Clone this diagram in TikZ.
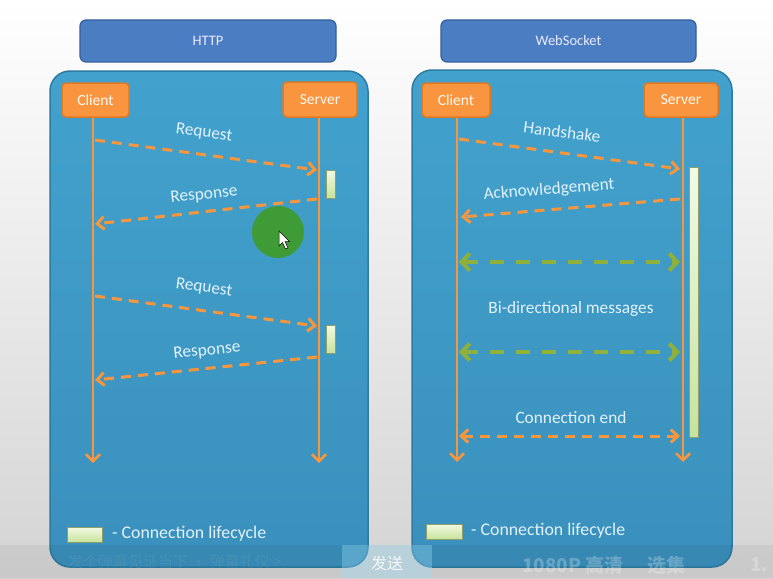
\documentclass[tikz,border=0pt]{standalone}
\usepackage{fontspec}
\setmainfont{Carlito}
\newfontfamily\cjk{Noto Sans CJK SC}
\usetikzlibrary{arrows.meta}
\definecolor{panelfill}{HTML}{42A2CD}
\definecolor{panelbot}{HTML}{3A90BC}
\definecolor{panelline}{HTML}{2C7BA3}
\definecolor{hdrfill}{HTML}{4B7DC2}
\definecolor{hdrline}{HTML}{345F9C}
\definecolor{orng}{HTML}{F7963C}
\definecolor{orngbox}{HTML}{F9953F}
\definecolor{orngline}{HTML}{E07A22}
\definecolor{grn}{HTML}{8FB03A}
\definecolor{lbltxt}{HTML}{E2F2FB}
\definecolor{bartop}{HTML}{F3FAE3}
\definecolor{barbot}{HTML}{C8E39C}
\definecolor{cursorgrn}{HTML}{3F9B35}
\begin{document}
\begin{tikzpicture}[x=1pt,y=-1pt,
  hdr/.style={draw=hdrline, line width=1.2pt, fill=hdrfill, rounded corners=6pt,
    text=white!92!blue, font=\fontsize{14.5}{16}\selectfont, inner sep=0pt},
  panel/.style={draw=panelline, line width=1.5pt, rounded corners=20pt,
    top color=panelfill, bottom color=panelbot},
  actor/.style={draw=orngline, line width=1.5pt, fill=orngbox, rounded corners=4pt,
    text=white!95!orange, font=\fontsize{15.5}{17}\selectfont, inner sep=0pt},
  life/.style={draw=orng, line width=2.5pt, -{Straight Barb[length=7pt,width=14pt]}},
  msg/.style={draw=orng, line width=3pt, dash pattern=on 10pt off 7pt,
    -{Straight Barb[length=7pt,width=13pt]}},
  msgboth/.style={msg, {Straight Barb[length=7pt,width=13pt]}-{Straight Barb[length=7pt,width=13pt]}},
  gmsg/.style={draw=grn, line width=4pt, dash pattern=on 14pt off 12pt,
    {Straight Barb[length=8pt,width=17pt]}-{Straight Barb[length=8pt,width=17pt]}},
  lbl/.style={text=lbltxt, font=\fontsize{17.3}{19}\selectfont, inner sep=0pt},
  lifebar/.style={draw=barbot!70!black, line width=0.4pt, top color=bartop, bottom color=barbot},
  legtxt/.style={text=lbltxt, font=\fontsize{17.8}{19}\selectfont, inner sep=0pt, anchor=west}
]
\useasboundingbox (0,0) rectangle (773,578);
% background of the screenshot
\shade[top color=white, middle color=white, bottom color=black!17] (0,0) rectangle (773,578);

% headers
\node[hdr, minimum width=256pt, minimum height=42pt] (hhttp) at (208,41) {HTTP};
\node[hdr, minimum width=255pt, minimum height=42pt] (hws) at (568.5,41) {WebSocket};

% panels
\path[panel] (50,71) rectangle (368,567);
\path[panel] (412,70) rectangle (732,567);

% ---------- HTTP ----------
\node[actor, minimum width=67pt, minimum height=34pt] (hc) at (95.5,100) {Client};
\node[actor, minimum width=74pt, minimum height=35pt] (hs) at (320,99.5) {Server};
\coordinate (hcend) at (93,463);
\coordinate (hsend) at (319,463);
\draw[life] (hc.south -| hcend) -- (hcend);
\draw[life] (hs.south -| hsend) -- (hsend);

\coordinate (hc1) at (95,140);  \coordinate (hs1) at (317,170);
\coordinate (hs2) at (317,199); \coordinate (hc2) at (95,224);
\coordinate (hc3) at (95,296);  \coordinate (hs3) at (317,326);
\coordinate (hs4) at (317,357); \coordinate (hc4) at (95,380);
\draw[msg] (hc1) -- (hs1);
\draw[msg] (hs2) -- (hc2);
\draw[msg] (hc3) -- (hs3);
\draw[msg] (hs4) -- (hc4);
\node[lbl, rotate=-7.5] (hl1) at (204,133) {Request};
\node[lbl, rotate=6.5] (hl2) at (204,195) {Response};
\node[lbl, rotate=-7.5] (hl3) at (204,288) {Request};
\node[lbl, rotate=6.5] (hl4) at (207,351) {Response};
\path[lifebar] (326,170) rectangle (335,198);
\path[lifebar] (326,325) rectangle (335,353);

% legend left
\path[lifebar] (67,527) rectangle (102,542);
\node[legtxt] (hleg) at (112,533.5) {- Connection lifecycle};

% ---------- WebSocket ----------
\node[actor, minimum width=68pt, minimum height=34pt] (wc) at (456,100) {Client};
\node[actor, minimum width=74pt, minimum height=34pt] (wsv) at (681,100) {Server};
\coordinate (wcend) at (457,462);
\coordinate (wsend) at (683,462);
\draw[life] (wc.south -| wcend) -- (wcend);
\draw[life] (wsv.south -| wsend) -- (wsend);

\path[lifebar] (689,167) rectangle (698,437);

\coordinate (wc1) at (459,139); \coordinate (ws1) at (680,169);
\coordinate (ws2) at (680,199); \coordinate (wc2) at (461,217);
\coordinate (wc3) at (459,262); \coordinate (ws3) at (680,262);
\coordinate (wc4) at (459,352); \coordinate (ws4) at (680,352);
\coordinate (wc5) at (459,436); \coordinate (ws5) at (680,436);
\draw[msg] (wc1) -- (ws1);
\draw[msg] (ws2) -- (wc2);
\draw[gmsg] (wc3) -- (ws3);
\draw[gmsg] (wc4) -- (ws4);
\draw[msgboth] (wc5) -- (ws5);
\node[lbl, rotate=-7.5] (wl1) at (562,132) {Handshake};
\node[lbl, rotate=4.5] (wl2) at (549,190) {Acknowledgement};
\node[lbl] (wl3) at (571,309) {Bi-directional messages};
\node[lbl] (wl4) at (571,418) {Connection end};

% legend right
\path[lifebar] (426,524) rectangle (462,539);
\node[legtxt] (wleg) at (471,530.5) {- Connection lifecycle};

% ---------- screen-recording overlays ----------
\fill[cursorgrn] (278,232) circle (26pt);
\filldraw[fill=white, draw=black, line width=0.5pt]
  (279,231) -- (279,246) -- (282.5,242.5) -- (285.5,249) -- (288,248) -- (285,241.5) -- (289.5,241.5) -- cycle;

\fill[black, opacity=0.05] (0,545) rectangle (773,578);
\fill[cyan!40!white, opacity=0.35] (342,545) rectangle (432,578);
\node[text=white, opacity=0.85, font=\cjk\fontsize{16}{18}\selectfont, inner sep=0pt] (send) at (387,563) {发送};
\node[text=white, opacity=0.07, font=\cjk\fontsize{15}{17}\selectfont, inner sep=0pt, anchor=west] (dm) at (68,562) {发个弹幕见证当下 · 弹幕礼仪 >};
\node[text=white, opacity=0.25, font=\cjk\bfseries\fontsize{19}{21}\selectfont, inner sep=0pt, anchor=west] (q) at (522,565) {1080P 高清 \quad 选集};
\node[text=white, opacity=0.25, font=\cjk\bfseries\fontsize{19}{21}\selectfont, inner sep=0pt, anchor=west] (spd) at (750,565) {1.};
\end{tikzpicture}
\end{document}
